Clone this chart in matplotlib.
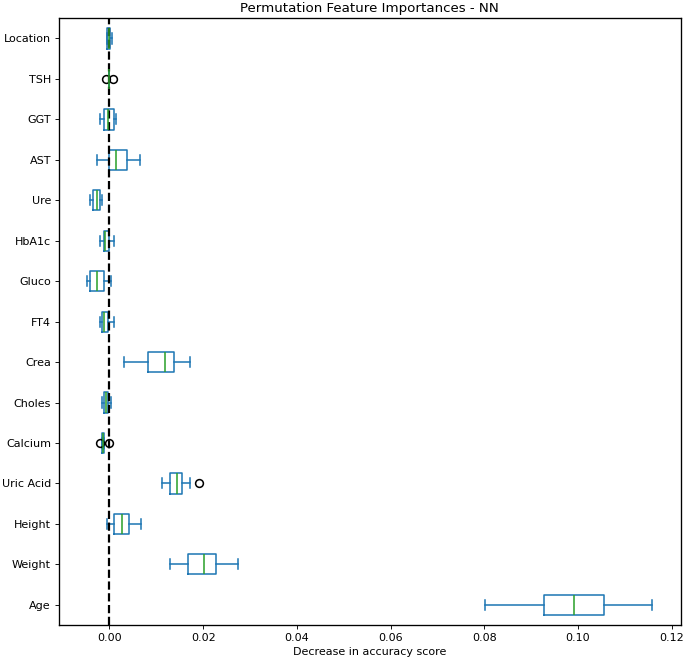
import matplotlib
matplotlib.use("Agg")
import matplotlib.pyplot as plt

# Box statistics (bottom to top)
features = ['Age', 'Weight', 'Height', 'Uric Acid', 'Calcium', 'Choles', 'Crea',
            'FT4', 'Gluco', 'HbA1c', 'Ure', 'AST', 'GGT', 'TSH', 'Location']
whislo = [0.0801, 0.0129, -0.0006, 0.0112, -0.0016, -0.0016, 0.0031,
          -0.0021, -0.0048, -0.0021, -0.0042, -0.0027, -0.0021, 0.0, -0.0006]
q1 = [0.0927, 0.0167, 0.0009, 0.0130, -0.0016, -0.0011, 0.0082,
      -0.0015, -0.0041, -0.0011, -0.0036, 0.0, -0.0011, 0.0, -0.0005]
med = [0.0991, 0.0201, 0.0026, 0.0144, -0.0013, -0.0007, 0.0119,
       -0.0011, -0.0027, -0.0009, -0.0026, 0.0014, -0.0003, 0.0, -0.0002]
q3 = [0.1055, 0.0227, 0.0041, 0.0154, -0.0012, -0.0003, 0.0137,
      -0.0004, -0.0012, 0.0, -0.0021, 0.0038, 0.0009, 0.0, 0.0002]
whishi = [0.1159, 0.0274, 0.0067, 0.0171, -0.0012, 0.0004, 0.0171,
          0.0009, 0.0004, 0.0009, -0.0016, 0.0066, 0.0015, 0.0, 0.0005]
fliers = [[], [], [], [0.0191], [-0.0021, 0.0], [], [],
          [], [], [], [], [], [], [-0.0008, 0.0007], []]

stats = []
for i in range(len(features)):
    stats.append({'label': features[i], 'whislo': whislo[i], 'q1': q1[i],
                  'med': med[i], 'q3': q3[i], 'whishi': whishi[i],
                  'fliers': fliers[i]})

# the reference looks like a bigger figure shrunk down, so use a lower dpi
fig, ax = plt.subplots(figsize=(685 / 80, 662 / 80), dpi=80)
blue = '#1f77b4'
lw = 1.4
ax.bxp(stats, vert=False, widths=0.5,
       boxprops=dict(color=blue, linewidth=lw),
       whiskerprops=dict(color=blue, linewidth=lw),
       capprops=dict(color=blue, linewidth=lw),
       medianprops=dict(color='#2ca02c', linewidth=lw),
       flierprops=dict(marker='o', markeredgecolor='k', markersize=7,
                       markeredgewidth=1.4))
ax.axvline(x=0, color='k', linestyle='--', linewidth=2)
ax.set_title('Permutation Feature Importances - NN')
ax.set_xlabel('Decrease in accuracy score')
for s in ax.spines.values():
    s.set_linewidth(1.2)

fig.subplots_adjust(left=0.0857, right=0.9937, top=0.9724, bottom=0.0559)
fig.savefig('out.png')
